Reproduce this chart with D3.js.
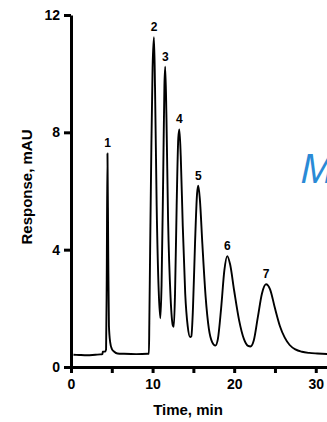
<!DOCTYPE html>
<html><head><meta charset="utf-8">
<script src="https://cdn.jsdelivr.net/npm/d3@7"></script>
<style>
html,body{margin:0;padding:0;background:#fff;}
svg{display:block;font-family:"Liberation Sans",Arial,sans-serif;}
</style></head>
<body><svg id="c" width="327" height="422"></svg>
<script>
// chromatogram trace: time (min), response (mAU)
const traceTime = [0.3,1,2,3,3.6,3.85,3.9,4.2,4.3,4.38,4.47,4.56,4.65,4.8,5.0,5.3,5.7,6.5,8,9.4,
  9.55,9.6,9.7,9.85,10.0,10.17,10.3,10.5,10.75,10.95,11.1,11.3,11.45,11.55,11.7,11.9,12.2,12.5,12.6,
  12.75,12.95,13.15,13.28,13.45,13.7,14.0,14.3,14.6,14.75,14.95,15.2,15.45,15.6,15.8,16.1,16.5,16.9,
  17.3,17.7,18.0,18.4,18.8,19.15,19.5,20.0,20.6,21.2,21.7,22.0,22.4,22.9,23.4,23.9,24.4,25.0,25.6,
  26.2,26.8,27.5,28.3,29.2,30.2,31.5];
const traceResp = [0.42,0.41,0.40,0.42,0.43,0.44,0.52,0.53,0.6,3.0,7.28,4.0,1.4,0.85,0.62,0.52,0.46,0.45,0.44,0.45,
  0.45,1.5,4.0,7.5,10.2,11.24,9.5,5.5,2.6,1.66,2.8,6.5,9.6,10.24,8.5,5.0,2.4,1.4,1.37,
  2.5,5.5,7.8,8.1,7.2,4.8,2.5,1.4,1.02,1.05,2.0,4.2,5.9,6.18,5.7,4.2,2.4,1.3,
  0.85,0.73,0.95,2.0,3.3,3.78,3.5,2.6,1.6,0.95,0.72,0.70,0.9,1.7,2.5,2.82,2.65,2.0,1.4,
  1.0,0.75,0.6,0.52,0.48,0.46,0.44];
// peak labels
const peakNames = ["1","2","3","4","5","6","7"];
const peakTime  = [4.47,10.17,11.55,13.28,15.6,19.15,23.9];
const peakResp  = [7.28,11.24,10.24,8.1,6.18,3.78,2.82];
// axes
const xTicks = [0,5,10,15,20,25,30];
const xTickLabels = ["0","","10","","20","","30"];
const yTicks = [0,4,8,12];
const xTitle = "Time, min";
const yTitle = "Response, mAU";
const watermark = "M";

const svg = d3.select("#c");
const x = d3.scaleLinear().domain([0,31.5]).range([71,328]);
const y = d3.scaleLinear().domain([0,12]).range([367,15]);
const font = '"Liberation Sans",Arial,sans-serif';

// watermark fragment
svg.append("text").attr("x",300).attr("y",183)
  .attr("font-family",'"Open Sans","DejaVu Sans",sans-serif').attr("font-style","italic")
  .attr("font-size",41).attr("fill","#2a8ad6").text(watermark);

// trace
const pts = traceTime.map((t,i)=>[t,traceResp[i]]);
svg.append("path").datum(pts)
  .attr("d", d3.line().x(d=>x(d[0])).y(d=>y(d[1])).curve(d3.curveMonotoneX))
  .attr("fill","none").attr("stroke","#000").attr("stroke-width",1.9).attr("stroke-linejoin","round");

// axes
const xa = svg.append("g").attr("transform",`translate(0,${y(0)})`)
  .call(d3.axisBottom(x).tickValues(xTicks).tickFormat((d,i)=>xTickLabels[i]).tickSize(6).tickSizeOuter(0).tickPadding(6));
const ya = svg.append("g").attr("transform",`translate(${x(0)},0)`)
  .call(d3.axisLeft(y).tickValues(yTicks).tickFormat(d3.format("d")).tickSize(7).tickSizeOuter(0).tickPadding(4));
[xa,ya].forEach(g=>{
  g.select(".domain").attr("stroke","#000").attr("stroke-width",3);
  g.selectAll(".tick line").attr("stroke","#000").attr("stroke-width",3);
  g.selectAll(".tick text").attr("font-family",font).attr("font-weight","bold").attr("font-size",14).attr("fill","#000");
});

// peak labels
svg.append("g").selectAll("text").data(peakNames).join("text")
  .attr("x",(d,i)=>x(peakTime[i])).attr("y",(d,i)=>y(peakResp[i])-6)
  .attr("text-anchor","middle").attr("font-family",font).attr("font-weight","bold").attr("font-size",12)
  .text(d=>d);

// titles
svg.append("text").attr("x",188).attr("y",415).attr("text-anchor","middle")
  .attr("font-family",font).attr("font-weight","bold").attr("font-size",15).text(xTitle);
svg.append("text").attr("transform","translate(32,187) rotate(-90)").attr("text-anchor","middle")
  .attr("font-family",font).attr("font-weight","bold").attr("font-size",15).text(yTitle);
</script></body></html>
